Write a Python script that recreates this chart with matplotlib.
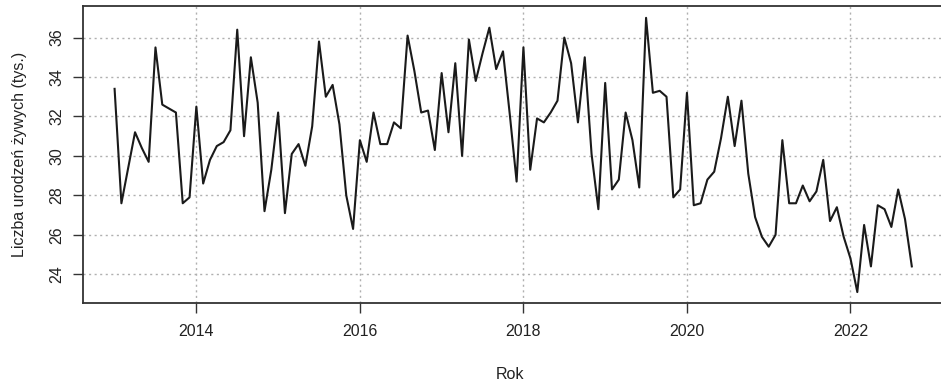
import numpy as np
import matplotlib
matplotlib.use("Agg")
import matplotlib.pyplot as plt

# Liczba urodzeń żywych w Polsce, dane miesięczne (tys.), od stycznia 2013
start_year = 2013
births = [
    33.4, 27.6, 29.4, 31.2, 30.4, 29.7, 35.5, 32.6, 32.4, 32.2, 27.6, 27.9,
    32.5, 28.6, 29.8, 30.5, 30.7, 31.3, 36.4, 31.0, 35.0, 32.7, 27.2, 29.3,
    32.2, 27.1, 30.1, 30.6, 29.5, 31.5, 35.8, 33.0, 33.6, 31.6, 28.0, 26.3,
    30.8, 29.7, 32.2, 30.6, 30.6, 31.7, 31.4, 36.1, 34.3, 32.2, 32.3, 30.3,
    34.2, 31.2, 34.7, 30.0, 35.9, 33.8, 35.2, 36.5, 34.4, 35.3, 32.1, 28.7,
    35.5, 29.3, 31.9, 31.7, 32.2, 32.8, 36.0, 34.7, 31.7, 35.0, 30.1, 27.3,
    33.7, 28.3, 28.8, 32.2, 30.8, 28.4, 37.0, 33.2, 33.3, 33.0, 27.9, 28.3,
    33.2, 27.5, 27.6, 28.8, 29.2, 30.9, 33.0, 30.5, 32.8, 29.1, 26.9, 25.9,
    25.4, 26.0, 30.8, 27.6, 27.6, 28.5, 27.7, 28.2, 29.8, 26.7, 27.4, 25.9,
    24.8, 23.1, 26.5, 24.4, 27.5, 27.3, 26.4, 28.3, 26.8, 24.4,
]
year_ticks = [2014, 2016, 2018, 2020, 2022]
value_ticks = [24, 26, 28, 30, 32, 34, 36]

t = start_year + np.arange(len(births)) / 12

plt.rcParams["font.family"] = ["Liberation Sans", "DejaVu Sans"]

fig = plt.figure(figsize=(9.41, 3.84), dpi=100)
ax = fig.add_axes([82.7 / 941, 0.2117, 861 / 941, 0.7727])

ax.plot(t, births, color="#1a1a1a", lw=1.5)

ax.set_xlim(2012.61, 2023.14)
ax.set_ylim(22.56, 37.6)
ax.set_xticks(year_ticks)
ax.set_yticks(value_ticks)
ax.grid(True, color="#b0b0b0", linestyle=(0, (1.5, 2.5)), lw=1.0)

ax.tick_params(axis="both", length=7, width=1.0, color="#333333",
               labelsize=11.5, labelcolor="#222222")
ax.tick_params(axis="x", pad=8)
ax.tick_params(axis="y", pad=6, labelrotation=90)
for lbl in ax.get_yticklabels():
    lbl.set_verticalalignment("center")

for side in ax.spines.values():
    side.set_color("#333333")
    side.set_linewidth(1.3)
# prawa krawędź ramki i tak leży poza obrazem
ax.spines["right"].set_visible(False)

ax.set_xlabel("Rok", fontsize=11.5, color="#222222", labelpad=20)
ax.xaxis.set_label_coords(0.496, -0.215)
ax.set_ylabel("Liczba urodzeń żywych (tys.)", fontsize=11.5,
              color="#222222", labelpad=16)

fig.savefig("out.png", dpi=100)
